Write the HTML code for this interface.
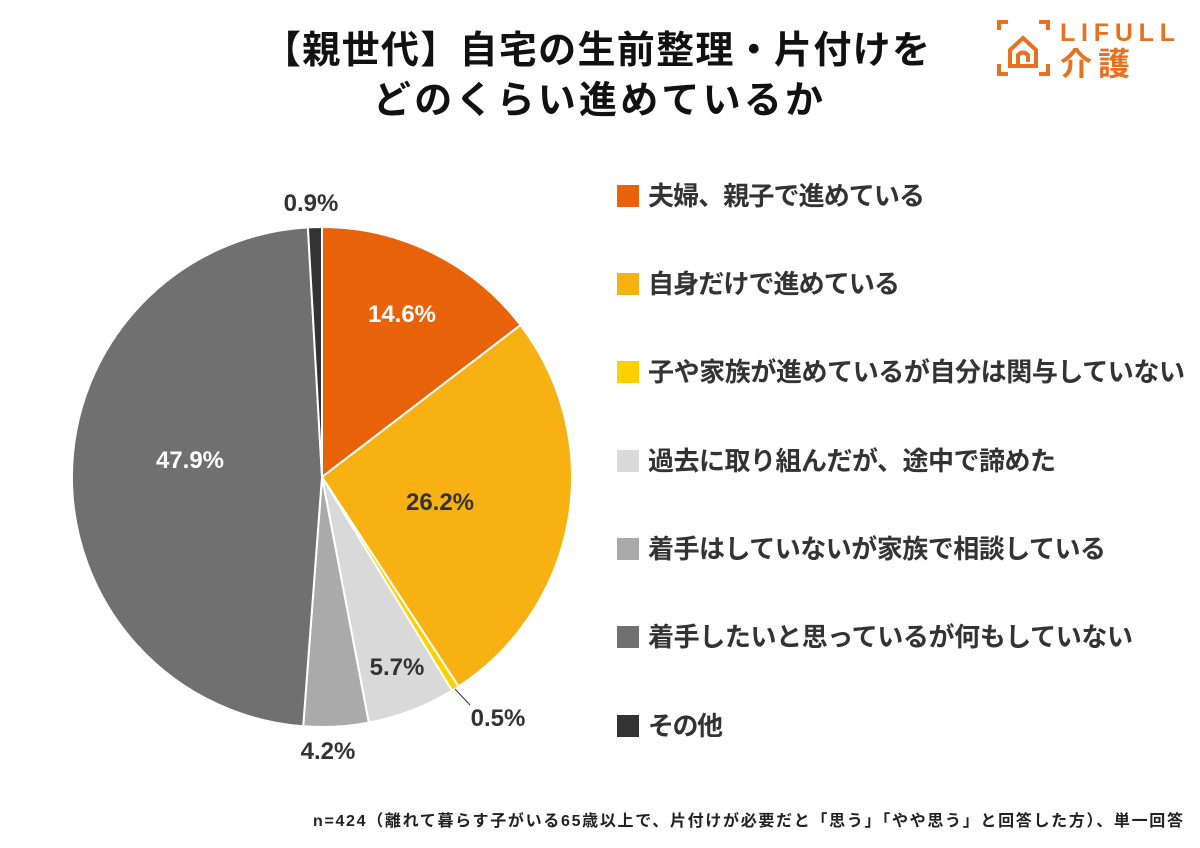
<!DOCTYPE html>
<html><head><meta charset="utf-8"><style>
html,body{margin:0;padding:0;background:#fff;}
body{width:1200px;height:848px;position:relative;overflow:hidden;font-family:"Liberation Sans","Noto Sans CJK JP",sans-serif;}
</style></head><body>
<svg width="1200" height="848" xmlns="http://www.w3.org/2000/svg" style="position:absolute;left:0;top:0" font-family="'Liberation Sans','Noto Sans CJK JP',sans-serif">
<text x="263" y="63" font-size="38" font-weight="bold" fill="#111" textLength="667" lengthAdjust="spacing">【親世代】自宅の生前整理・片付けを</text>
<text x="373" y="113" font-size="38" font-weight="bold" fill="#111" textLength="450" lengthAdjust="spacing">どのくらい進めているか</text>
<!-- logo -->
<g stroke="#E8701E" stroke-width="4" fill="none">
<path d="M999 30 V22 H1008"/><path d="M1039 22 H1048 V30"/>
<path d="M999 64 V74 H1008"/><path d="M1039 74 H1048 V64"/>
<path d="M1010 66 V50 L1023 38 L1036 50 V66 Z"/>
<path d="M1018 66 V55 Q1023 50 1028 55 V62"/>
</g>
<text x="1060" y="41" font-size="25" font-weight="bold" fill="#E8701E" textLength="115" lengthAdjust="spacing">LIFULL</text>
<text x="1060" y="75" font-size="32" font-weight="bold" fill="#E8701E" textLength="70" lengthAdjust="spacing">介護</text>
<!-- pie -->
<g stroke="#fff" stroke-width="2">
<path d="M322 477 L322 227 A250 250 0 0 1 520.5 325.1 Z" fill="#E8620A"/>
<path d="M322 477 L520.5 325.1 A250 250 0 0 1 458.6 686.4 Z" fill="#F8B112"/>
<path d="M322 477 L458.6 686.4 A250 250 0 0 1 452.0 690.6 Z" fill="#FFD000"/>
<path d="M322 477 L452.0 690.6 A250 250 0 0 1 368.8 722.6 Z" fill="#D9D9D9"/>
<path d="M322 477 L368.8 722.6 A250 250 0 0 1 303.2 726.3 Z" fill="#AAAAAA"/>
<path d="M322 477 L303.2 726.3 A250 250 0 0 1 307.9 227.4 Z" fill="#707070"/>
<path d="M322 477 L307.9 227.4 A250 250 0 0 1 322 227 Z" fill="#333333"/>
</g>
<line x1="455" y1="689" x2="470" y2="705" stroke="#333" stroke-width="1"/>
<g font-size="24" font-weight="bold" text-anchor="middle">
<text x="402" y="322" fill="#fff">14.6%</text>
<text x="440" y="510" fill="#333">26.2%</text>
<text x="397" y="675" fill="#333">5.7%</text>
<text x="190" y="468" fill="#fff">47.9%</text>
<text x="311" y="211" fill="#333">0.9%</text>
<text x="498" y="726" fill="#333">0.5%</text>
<text x="328" y="759" fill="#333">4.2%</text>
</g>
<!-- legend -->
<g font-size="26" font-weight="bold" fill="#333">
<rect x="617" y="185" width="22" height="22" fill="#E8620A"/><text x="648" y="205" textLength="277" lengthAdjust="spacing">夫婦、親子で進めている</text>
<rect x="617" y="273" width="22" height="22" fill="#F8B112"/><text x="648" y="293" textLength="252" lengthAdjust="spacing">自身だけで進めている</text>
<rect x="617" y="361" width="22" height="22" fill="#FFD000"/><text x="648" y="381" textLength="537" lengthAdjust="spacing">子や家族が進めているが自分は関与していない</text>
<rect x="617" y="450" width="22" height="22" fill="#D9D9D9"/><text x="648" y="470" textLength="408" lengthAdjust="spacing">過去に取り組んだが、途中で諦めた</text>
<rect x="617" y="538" width="22" height="22" fill="#AAAAAA"/><text x="648" y="558" textLength="458" lengthAdjust="spacing">着手はしていないが家族で相談している</text>
<rect x="617" y="626" width="22" height="22" fill="#707070"/><text x="648" y="646" textLength="485" lengthAdjust="spacing">着手したいと思っているが何もしていない</text>
<rect x="617" y="715" width="22" height="22" fill="#333333"/><text x="648" y="735" textLength="75" lengthAdjust="spacing">その他</text>
</g>
<text x="313" y="826" font-size="16" font-weight="bold" fill="#222" textLength="870" lengthAdjust="spacing">n=424（離れて暮らす子がいる65歳以上で、片付けが必要だと「思う」「やや思う」と回答した方）、単一回答</text>
</svg>
</body></html>
